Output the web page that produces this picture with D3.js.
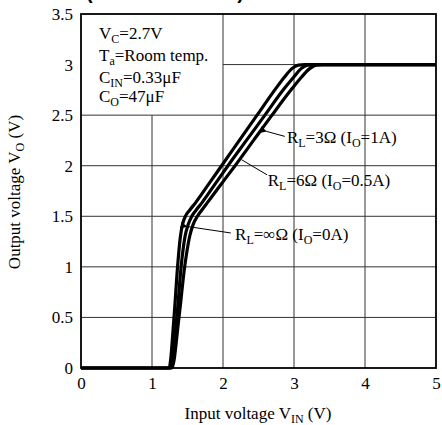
<!DOCTYPE html>
<html>
<head>
<meta charset="utf-8">
<script src="https://cdn.jsdelivr.net/npm/d3@7"></script>
<style>
  body { margin: 0; background: #fff; }
  svg { font-family: "Liberation Serif", "Times New Roman", serif; }
</style>
</head>
<body>
<svg width="442" height="425"></svg>
<script>
// output voltage levels, and the input voltage each curve reaches them at
const vout = [0, 0, 0.5, 1.0, 1.3, 1.42, 1.5, 1.56, 1.64, 1.71, 1.86, 2.0, 2.25, 2.5, 2.76, 2.88, 2.96, 2.995, 3.0, 3.0];
const vinInf = [0, 1.24, 1.31, 1.36, 1.40, 1.43, 1.47, 1.53, 1.62, 1.69, 1.84, 1.98, 2.23, 2.48, 2.74, 2.87, 2.97, 3.06, 3.15, 5];
const vin6 = [0, 1.26, 1.35, 1.41, 1.465, 1.51, 1.56, 1.62, 1.71, 1.78, 1.93, 2.07, 2.33, 2.59, 2.86, 3.0, 3.1, 3.19, 3.28, 5];
const vin3 = [0, 1.28, 1.38, 1.46, 1.53, 1.58, 1.64, 1.70, 1.785, 1.86, 2.02, 2.17, 2.43, 2.69, 2.97, 3.11, 3.22, 3.31, 3.40, 5];

const xTicks = [0, 1, 2, 3, 4, 5];
const yTicks = [0, 0.5, 1, 1.5, 2, 2.5, 3, 3.5];

// condition box lines: [main, subscript, rest]
const conditions = [
  ["V", "C", "=2.7V"],
  ["T", "a", "=Room temp."],
  ["C", "IN", "=0.33\u03bcF"],
  ["C", "O", "=47\u03bcF"]
];

// curve labels: text parts, leader from curve point to label point
const labels = [
  { parts: ["R", "L", "=3\u03a9 (I", "O", "=1A)"], from: [2.61, 2.34], to: [2.87, 2.29], at: [2.9, 2.225], arrow: true },
  { parts: ["R", "L", "=6\u03a9 (I", "O", "=0.5A)"], from: [2.26, 2.06], to: [2.62, 1.91], at: [2.63, 1.80], arrow: false },
  { parts: ["R", "L", "=\u221e\u03a9 (I", "O", "=0A)"], from: [1.49, 1.40], to: [2.11, 1.335], at: [2.17, 1.265], arrow: true }
];

const svg = d3.select("svg");
const x = d3.scaleLinear().domain([0, 5]).range([81, 436]);
const y = d3.scaleLinear().domain([0, 3.5]).range([368, 14]);

// title, cut off at the top edge
svg.append("text")
  .attr("x", 86).attr("y", -1)
  .attr("textLength", 158)
  .style("font-family", "'Liberation Sans', Arial, sans-serif")
  .style("font-weight", "bold")
  .style("font-size", "20px")
  .text("(Reference)");

// grid, leaving out the cell with the conditions
const grid = svg.append("g").attr("stroke", "#333").attr("stroke-width", 1);
grid.selectAll("line.v")
  .data(xTicks.filter(d => d > 0 && d < 5))
  .join("line")
  .attr("x1", d => x(d)).attr("x2", d => x(d))
  .attr("y1", y(0))
  .attr("y2", d => d < 2 ? y(2.5) : y(3.5));
grid.selectAll("line.h")
  .data(yTicks.filter(d => d > 0 && d < 3.5))
  .join("line")
  .attr("y1", d => y(d)).attr("y2", d => y(d))
  .attr("x1", d => d > 2.5 ? x(2) : x(0))
  .attr("x2", x(5));

// axes labels
const yAxis = svg.append("g")
  .attr("transform", `translate(${x(0)},0)`)
  .call(d3.axisLeft(y).tickValues(yTicks).tickSize(0).tickPadding(8).tickFormat(d => d));
const xAxis = svg.append("g")
  .attr("transform", `translate(0,${y(0)})`)
  .call(d3.axisBottom(x).tickValues(xTicks).tickSize(0).tickPadding(9).tickFormat(d => d));
[xAxis, yAxis].forEach(a => {
  a.select(".domain").remove();
  a.selectAll("text")
    .attr("fill", "#000")
    .style("font-family", "'Liberation Serif', serif")
    .style("font-size", "17px");
});

// frame
svg.append("rect")
  .attr("x", x(0)).attr("y", y(3.5))
  .attr("width", x(5) - x(0)).attr("height", y(0) - y(3.5))
  .attr("fill", "none").attr("stroke", "#000").attr("stroke-width", 1.8);

// curves
const line = d3.line()
  .x(d => x(d[0])).y(d => y(d[1]))
  .curve(d3.curveMonotoneX);
const series = [
  d3.zip(vinInf, vout),
  d3.zip(vin6, vout),
  d3.zip(vin3, vout)
];
svg.append("g").selectAll("path")
  .data(series)
  .join("path")
  .attr("d", line)
  .attr("fill", "none")
  .attr("stroke", "#000")
  .attr("stroke-width", 3.2)
  .attr("stroke-linejoin", "round");

// text with subscripts: base, sub, rest [, sub2, rest2]
function subText(sel, parts) {
  parts.forEach((p, i) => {
    const t = sel.append("tspan").text(p);
    if (i % 2 === 1) t.attr("font-size", "12px").attr("dy", 4);
    else if (i > 0) t.attr("dy", -4);
  });
}

// conditions
const condY = [39, 61, 82.5, 102];
conditions.forEach((c, i) => {
  const t = svg.append("text")
    .attr("x", 99).attr("y", condY[i])
    .attr("font-size", "17px");
  subText(t, c);
});

// leaders and labels
svg.append("defs").append("marker")
  .attr("id", "arr")
  .attr("viewBox", "0 0 10 10")
  .attr("refX", 1).attr("refY", 5)
  .attr("markerWidth", 7).attr("markerHeight", 7)
  .attr("markerUnits", "userSpaceOnUse")
  .attr("orient", "auto-start-reverse")
  .append("path").attr("d", "M0,5L10,0L10,10Z").attr("fill", "#000");

labels.forEach(l => {
  svg.append("line")
    .attr("x1", x(l.from[0])).attr("y1", y(l.from[1]))
    .attr("x2", x(l.to[0])).attr("y2", y(l.to[1]))
    .attr("stroke", "#000").attr("stroke-width", 1)
    .attr("marker-start", l.arrow ? "url(#arr)" : null);
  const t = svg.append("text")
    .attr("x", x(l.at[0])).attr("y", y(l.at[1]))
    .attr("font-size", "17px");
  subText(t, l.parts);
});

// axis titles
const xt = svg.append("text")
  .attr("x", 258).attr("y", 419)
  .attr("text-anchor", "middle")
  .attr("font-size", "17px");
subText(xt, ["Input voltage V", "IN", " (V)"]);

const yt = svg.append("text")
  .attr("transform", "translate(20,192) rotate(-90)")
  .attr("text-anchor", "middle")
  .attr("font-size", "17px");
subText(yt, ["Output voltage V", "O", " (V)"]);
</script>
</body>
</html>
